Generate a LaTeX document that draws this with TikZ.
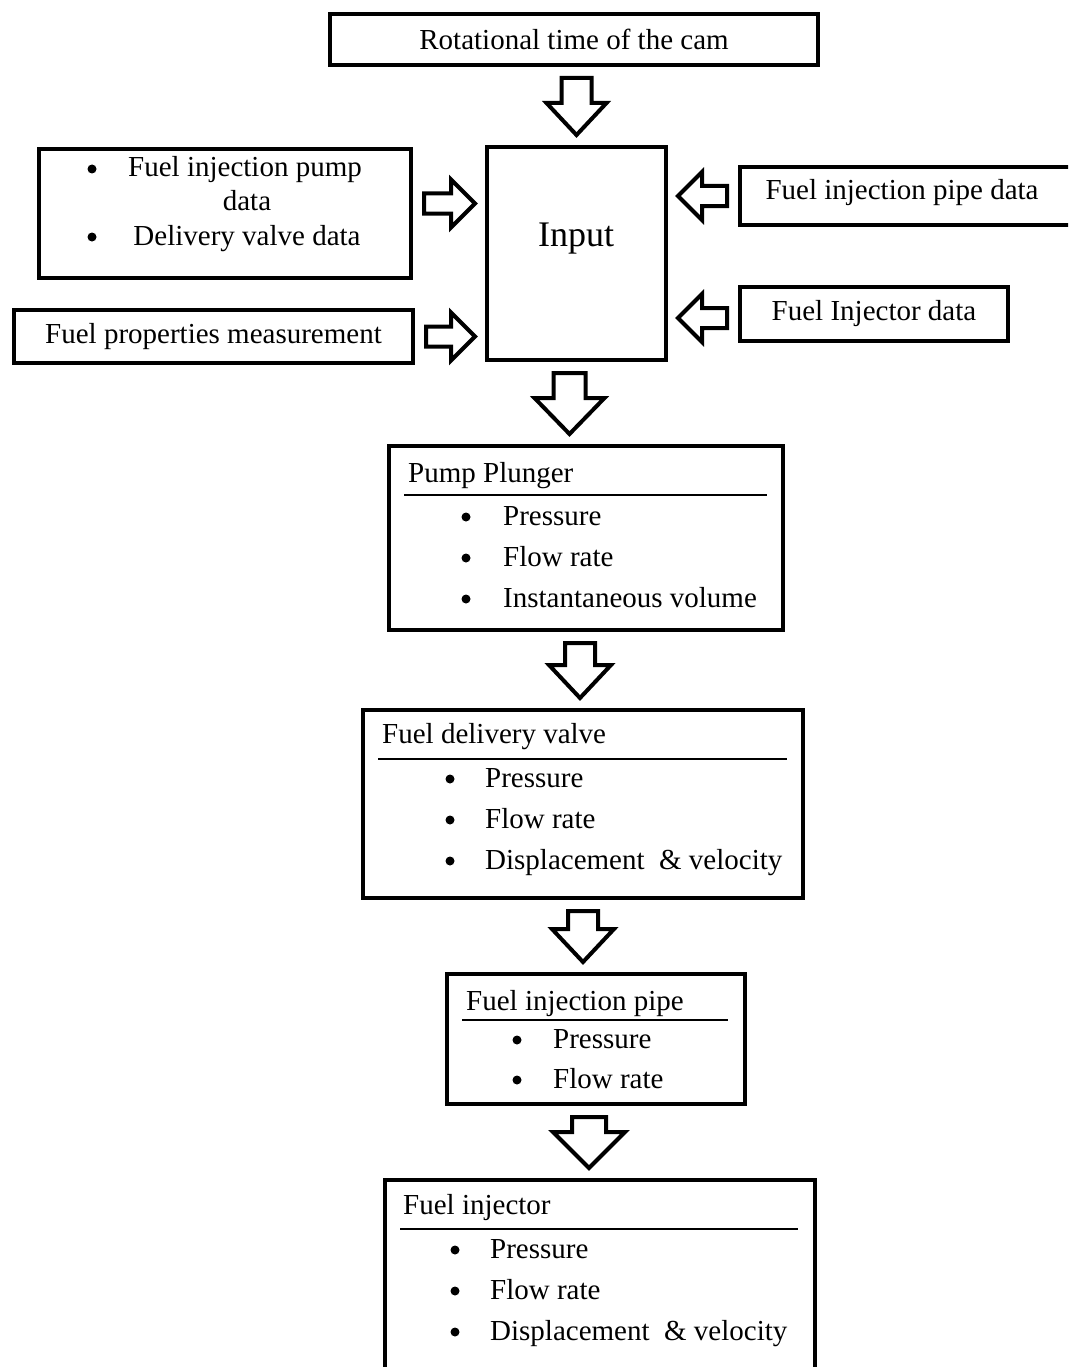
\documentclass[tikz,border=0pt]{standalone}
\usepackage{fontspec}
\setmainfont{Liberation Serif}
\usepackage{tikz}
\usetikzlibrary{calc}

% hollow block arrow: start, end, shaft half width, head half width, head length
\newcommand{\hollowarrow}[5]{%
  \coordinate (ha-s) at ($(#1)!11pt!(#2)$);
  \coordinate (ha-t) at ($(#2)!10pt!(#1)$);
  \coordinate (ha-h) at ($(ha-t)!#5!(ha-s)$);
  \draw[fatarr] ($(ha-s)!#3!90:(ha-t)$) -- ($(ha-h)!#3!90:(ha-t)$)
    -- ($(ha-h)!#4!90:(ha-t)$) -- (ha-t) -- ($(ha-h)!#4!-90:(ha-t)$)
    -- ($(ha-h)!#3!-90:(ha-t)$) -- ($(ha-s)!#3!-90:(ha-t)$) -- cycle;
}

\begin{document}
\begin{tikzpicture}[x=1pt, y=-1pt,
    box/.style={draw, line width=4pt, inner sep=0pt, font=\fontsize{29}{35}\selectfont},
    txt/.style={inner sep=0pt, anchor=base west, font=\fontsize{29}{35}\selectfont},
    dot/.style={circle, fill=black, inner sep=0pt, minimum size=9pt, yshift=8pt},
    rule/.style={line width=1.6pt},
    fatarr/.style={draw, line width=4pt, fill=white, line join=miter}
]
\path[use as bounding box, clip] (0,0) rectangle (1068,1367);

% inputs
\node[box, minimum width=488pt, minimum height=51pt] (cam) at (574,39.5) {Rotational time of the cam};
\node[box, minimum width=179pt, minimum height=213pt] (input) at (576.5,253.5) {};
\node[txt, anchor=base, font=\fontsize{36}{40}\selectfont] (inlbl) at (576,246) {Input};

\node[box, minimum width=372pt, minimum height=129pt] (pumpdata) at (225,213.5) {};
\node[dot] (pd1) at (92,177) {};
\node[txt, anchor=base] (pd1t) at (245,177) {Fuel injection pump};
\node[txt, anchor=base] (pd2t) at (247,210) {data};
\node[dot] (pd3) at (92,245) {};
\node[txt, anchor=base] (pd3t) at (247,245) {Delivery valve data};

\node[box, minimum width=399pt, minimum height=53pt] (fuelprop) at (213.5,336.5) {Fuel properties measurement};

\node[box, minimum width=334pt, minimum height=58pt] (pipedata) at (907,196) {};
\node[txt, anchor=base] (pipedatat) at (902,200) {Fuel injection pipe data};
\node[box, minimum width=268pt, minimum height=54pt] (injdata) at (874,314) {Fuel Injector data};

% chain
\node[box, minimum width=394pt, minimum height=184pt] (pump) at (586,538) {};
\node[txt] (pumpt) at (408,482) {Pump Plunger};
\draw[rule] (404,495) -- (767,495);
\foreach \itm [count=\i] in {Pressure, Flow rate, Instantaneous volume} {
  \node[dot] (pumpb\i) at (466,484+41*\i) {};
  \node[txt] (pumpi\i) at (503,484+41*\i) {\itm};
}

\node[box, minimum width=440pt, minimum height=188pt] (valve) at (583,804) {};
\node[txt] (valvet) at (382,743) {Fuel delivery valve};
\draw[rule] (378,759) -- (787,759);
\foreach \itm [count=\i] in {Pressure, Flow rate, Displacement \ \& velocity} {
  \node[dot] (valveb\i) at (450,746+41*\i) {};
  \node[txt] (valvei\i) at (485,746+41*\i) {\itm};
}

\node[box, minimum width=298pt, minimum height=130pt] (pipe) at (596,1039) {};
\node[txt] (pipet) at (466,1010) {Fuel injection pipe};
\draw[rule] (462,1020) -- (728,1020);
\foreach \itm [count=\i] in {Pressure, Flow rate} {
  \node[dot] (pipeb\i) at (517,1008+40*\i) {};
  \node[txt] (pipei\i) at (553,1008+40*\i) {\itm};
}

\node[box, minimum width=430pt, minimum height=220pt] (injector) at (600,1290) {};
\node[txt] (injectort) at (403,1214) {Fuel injector};
\draw[rule] (400,1229) -- (798,1229);
\foreach \itm [count=\i] in {Pressure, Flow rate, Displacement \ \& velocity} {
  \node[dot] (injectorb\i) at (455,1217+41*\i) {};
  \node[txt] (injectori\i) at (490,1217+41*\i) {\itm};
}

% block arrows
\hollowarrow{input.north |- cam.south}{input.north}{15pt}{30pt}{32pt}
\coordinate (pd-out) at ($(pumpdata.east)+(0,-10)$);
\hollowarrow{pd-out}{pd-out -| input.west}{10pt}{24pt}{24pt}
\hollowarrow{fuelprop.east}{fuelprop.east -| input.west}{10pt}{24pt}{24pt}
\hollowarrow{pipedata.west}{pipedata.west -| input.east}{10pt}{24pt}{24pt}
\coordinate (id-out) at ($(injdata.west)+(0,4)$);
\hollowarrow{id-out}{id-out -| input.east}{10pt}{24pt}{24pt}

\coordinate (in-out) at ($(input.south)+(-7,0)$);
\hollowarrow{in-out}{in-out |- pump.north}{16pt}{35pt}{36pt}
\coordinate (pp-out) at ($(pump.south)+(-6,0)$);
\hollowarrow{pp-out}{pp-out |- valve.north}{15pt}{31pt}{33pt}
\hollowarrow{valve.south}{valve.south |- pipe.north}{15pt}{31pt}{33pt}
\coordinate (pi-out) at ($(pipe.south)+(-7,0)$);
\hollowarrow{pi-out}{pi-out |- injector.north}{17pt}{36pt}{36pt}
\end{tikzpicture}
\end{document}
